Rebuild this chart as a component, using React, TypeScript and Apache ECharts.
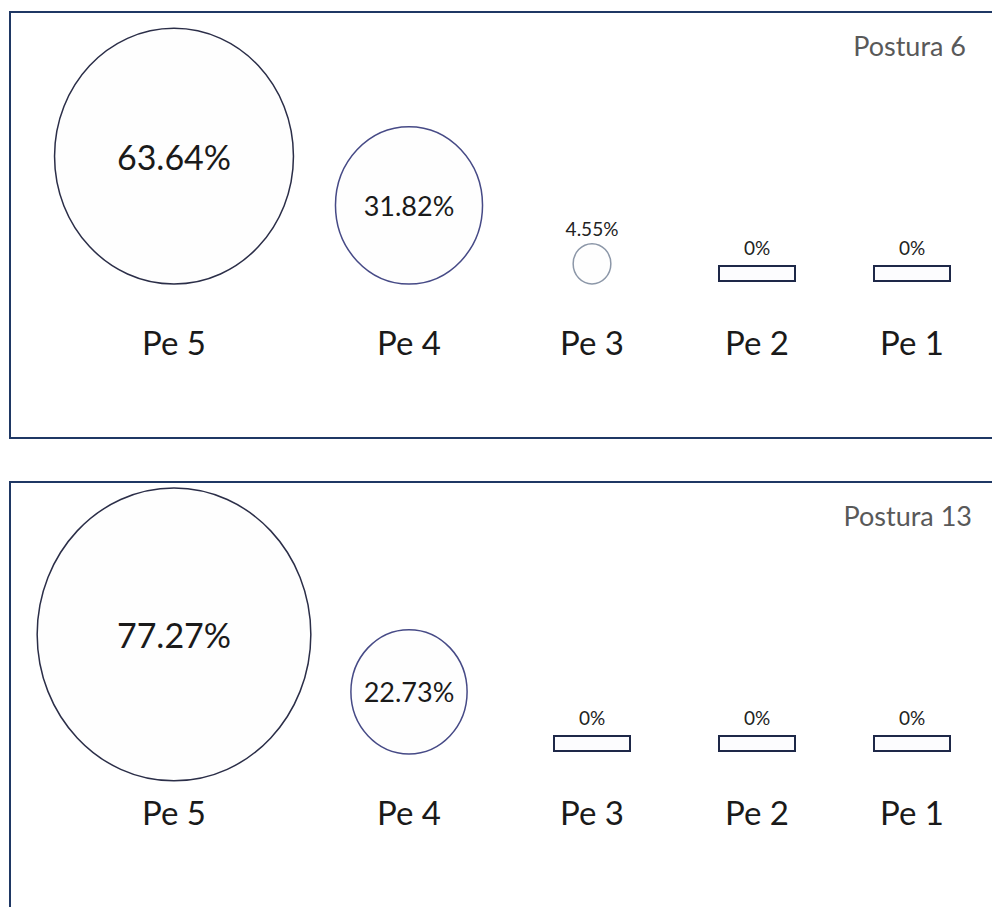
import React, { useEffect, useRef } from "react";
import * as echarts from "echarts";

// ---- data ----
const categories = ["Pe 5", "Pe 4", "Pe 3", "Pe 2", "Pe 1"];
const postura6 = [63.64, 31.82, 4.55, 0, 0];
const postura13 = [77.27, 22.73, 0, 0, 0];
const panelTitles = ["Postura 6", "Postura 13"];

// ---- layout (not data) ----
const slotX = [164, 399, 582, 747, 902]; // column centres along the hidden x axis (0..982)
const BASELINE = 272; // px below panel top where bubbles sit
const NAME_Y = 330;
const ZERO_LABEL_Y = 235;
const SIZE_K = 13.05;
const SIZE_P = 0.7;
const FONT = "Lato";

const panelTop = [12, 482];
const panelHeight = [426, 520];
const titleRight = [26, 20];

function makeRenderItem() {
  return (params: any, api: any) => {
    const v = api.value(1);
    const idx = api.value(2);
    const top = params.coordSys.y;
    const [cx] = api.coord([api.value(0), 0]);
    const baseY = top + BASELINE;
    const children: any[] = [];
    const txt = (text: string, x: number, y: number, size: number, color = "#1a1a1a") => ({
      type: "text",
      style: {
        text,
        x,
        y,
        font: `${size}px ${FONT}`,
        fill: color,
        textAlign: "center",
        textVerticalAlign: "middle",
        align: "center",
        verticalAlign: "middle",
      },
    });
    const label = v.toFixed(2).replace(/\.?0+$/, "") + "%";
    if (v === 0) {
      children.push({
        type: "rect",
        shape: { x: cx - 38, y: baseY - 18, width: 76, height: 15 },
        style: { fill: "#fcfcfe", stroke: "#1e2848", lineWidth: 2 },
      });
      children.push(txt("0%", cx, top + ZERO_LABEL_Y, 19, "#222222"));
    } else {
      const w = SIZE_K * Math.pow(v, SIZE_P);
      const h = w * 1.07;
      const topY = Math.max(top + 6, baseY - h);
      const cy = topY + h / 2;
      const stroke = w > 200 ? "#2b2e48" : w > 80 ? "#464a86" : "#8c97a8";
      children.push({
        type: "ellipse",
        shape: { cx, cy, rx: w / 2, ry: h / 2 },
        style: { fill: "#fefefe", stroke, lineWidth: 1.5 },
      });
      if (w > 80) {
        children.push(txt(label, cx, cy, w > 200 ? 34 : 27));
      } else {
        children.push(txt(label, cx, topY - 15, 19, "#222222"));
      }
    }
    children.push(txt(categories[idx], cx, top + NAME_Y, 33));
    return { type: "group", children };
  };
}

export default function App() {
  const ref = useRef<HTMLDivElement>(null);
  useEffect(() => {
    if (!ref.current) return;
    const chart = echarts.init(ref.current, undefined, { renderer: "svg" });
    const panels = [postura6, postura13];
    chart.setOption({
      animation: false,
      backgroundColor: "#ffffff",
      title: panelTitles.map((t, i) => ({
        text: t,
        right: titleRight[i],
        top: panelTop[i] + 20,
        padding: 0,
        textStyle: { fontFamily: FONT, fontSize: 27, fontWeight: "normal", color: "#595959" },
      })),
      graphic: panels.map((_, i) => ({
        type: "rect",
        shape: { x: 10, y: panelTop[i], width: 1000, height: panelHeight[i] },
        style: { fill: "transparent", stroke: "#1f3864", lineWidth: 2 },
        silent: true,
      })),
      grid: panels.map((_, i) => ({
        left: 10,
        top: panelTop[i],
        right: 0,
        height: panelHeight[i],
        show: false,
      })),
      xAxis: panels.map((_, i) => ({
        gridIndex: i,
        type: "value",
        min: 0,
        max: 982,
        show: false,
        splitLine: { show: false },
      })),
      yAxis: panels.map((_, i) => ({
        gridIndex: i,
        type: "value",
        min: 0,
        max: 100,
        show: false,
        splitLine: { show: false },
      })),
      series: panels.map((vals, i) => ({
        type: "custom",
        xAxisIndex: i,
        yAxisIndex: i,
        encode: { x: 0, y: 1 },
        renderItem: makeRenderItem(),
        data: vals.map((v, j) => [slotX[j], v, j]),
      })),
    });
    return () => chart.dispose();
  }, []);
  return (
    <div
      ref={ref}
      style={{ position: "absolute", left: 0, top: 0, width: 992, height: 907 }}
    />
  );
}
